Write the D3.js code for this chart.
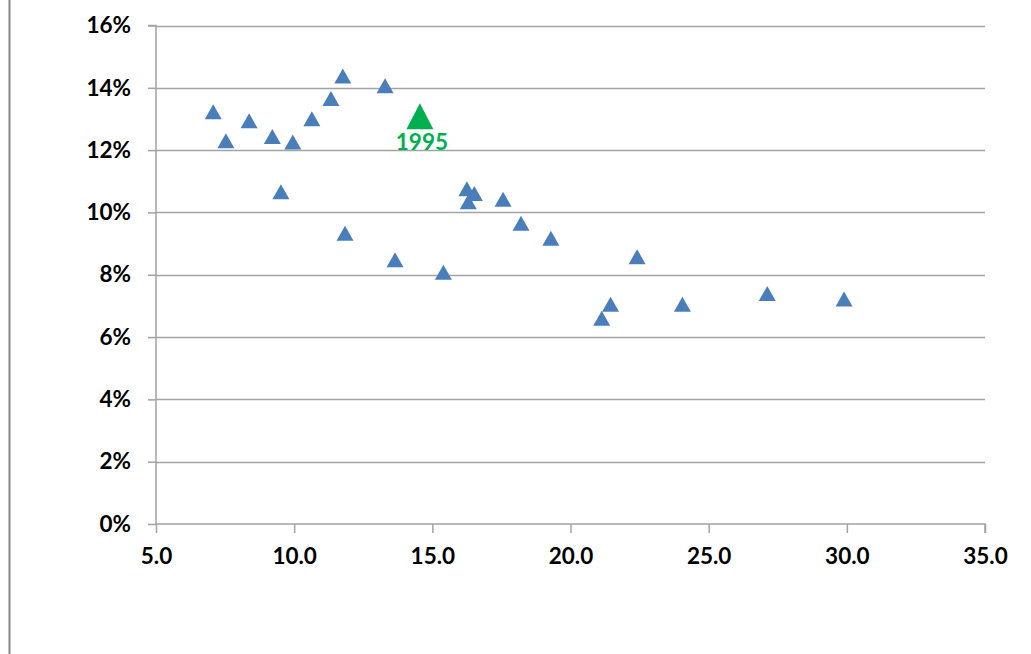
<!DOCTYPE html>
<html>
<head>
<meta charset="utf-8">
<script src="https://cdn.jsdelivr.net/npm/d3@7"></script>
<style>
  html, body { margin: 0; padding: 0; background: #fff; }
  svg { display: block; }
  text { font-family: Lato, "Open Sans", "Liberation Sans", sans-serif; font-weight: 700; }
</style>
</head>
<body>
<svg id="chart" width="1031" height="654"></svg>
<script>
// ---- data ----
const peValues = [7.07, 7.53, 8.37, 9.21, 9.52, 9.95, 10.64, 11.33, 11.76, 11.84, 13.29, 13.65, 15.40,
                  16.25, 16.52, 16.30, 17.56, 18.21, 19.29, 21.45, 21.13, 22.41, 24.05, 27.12, 29.90];
const returnValues = [13.23, 12.30, 12.94, 12.44, 10.66, 12.26, 13.01, 13.66, 14.38, 9.33, 14.07, 8.48, 8.08,
                      10.76, 10.61, 10.34, 10.42, 9.65, 9.17, 7.05, 6.60, 8.58, 7.05, 7.40, 7.22];
const highlightPE = [14.55];
const highlightReturn = [13.09];
const highlightLabels = ["1995"];
const xTickValues = [5, 10, 15, 20, 25, 30, 35];
const xTickLabels = ["5.0", "10.0", "15.0", "20.0", "25.0", "30.0", "35.0"];
const yTickValues = [0, 2, 4, 6, 8, 10, 12, 14, 16];
const yTickLabels = ["0%", "2%", "4%", "6%", "8%", "10%", "12%", "14%", "16%"];

// ---- layout ----
const svg = d3.select("#chart");
const plotLeft = 156, plotRight = 985, plotTop = 25.5, plotBottom = 524;
const x = d3.scaleLinear().domain([5, 35]).range([plotLeft, plotRight]);
const y = d3.scaleLinear().domain([0, 16]).range([plotBottom, plotTop]);

const gridColor = "#a3a3a3";
const fontSize = 22.5;

// outer chart frame (only left edge visible)
svg.append("line").attr("x1", 9.5).attr("x2", 9.5).attr("y1", 0).attr("y2", 654)
  .attr("stroke", "#858585").attr("stroke-width", 2);

// gridlines
svg.append("g").selectAll("line").data(yTickValues.filter(v => v > 0)).join("line")
  .attr("x1", plotLeft).attr("x2", plotRight)
  .attr("y1", d => Math.round(y(d)) + 0.5).attr("y2", d => Math.round(y(d)) + 0.5)
  .attr("stroke", gridColor).attr("stroke-width", 1.5);

// y axis
const yAxis = d3.axisLeft(y).tickValues(yTickValues)
  .tickFormat((d, i) => yTickLabels[i]).tickSize(8).tickPadding(17);
const gy = svg.append("g").attr("transform", `translate(${plotLeft},0)`).call(yAxis);
gy.select(".domain").attr("stroke", gridColor).attr("stroke-width", 1.5).attr("d", `M-8,${plotTop}H0V${plotBottom}`);
gy.selectAll(".tick line").attr("stroke", gridColor).attr("stroke-width", 1.5);
gy.selectAll(".tick text").attr("font-size", fontSize).attr("fill", "#000")
  .attr("font-family", "Lato, 'Open Sans', sans-serif").attr("font-weight", 700);

// x axis
const xAxis = d3.axisBottom(x).tickValues(xTickValues)
  .tickFormat((d, i) => xTickLabels[i]).tickSize(9).tickPadding(15);
const gx = svg.append("g").attr("transform", `translate(0,${plotBottom})`).call(xAxis);
gx.select(".domain").attr("stroke", gridColor).attr("stroke-width", 1.5).attr("d", `M${plotLeft},0H${plotRight}V9`);
gx.selectAll(".tick line").attr("stroke", gridColor).attr("stroke-width", 1.5);
gx.selectAll(".tick text").attr("font-size", fontSize).attr("fill", "#000")
  .attr("font-family", "Lato, 'Open Sans', sans-serif").attr("font-weight", 700);

// triangle marker path (apex up), centered on bounding box
function tri(w, h) {
  return `M0,${-h/2}L${w/2},${h/2}L${-w/2},${h/2}Z`;
}

const pts = peValues.map((v, i) => ({ pe: v, r: returnValues[i] }));
svg.append("g").selectAll("path").data(pts).join("path")
  .attr("d", tri(17, 15))
  .attr("transform", d => `translate(${x(d.pe)},${y(d.r)})`)
  .attr("fill", "#4a7ebb");

const hl = highlightPE.map((v, i) => ({ pe: v, r: highlightReturn[i], label: highlightLabels[i] }));
const gh = svg.append("g");
gh.selectAll("path").data(hl).join("path")
  .attr("d", tri(27, 26))
  .attr("transform", d => `translate(${x(d.pe)},${y(d.r)})`)
  .attr("fill", "#00b050");
gh.selectAll("text").data(hl).join("text")
  .attr("x", d => x(d.pe) + 2)
  .attr("y", d => y(d.r) + 34)
  .attr("text-anchor", "middle")
  .attr("font-size", fontSize)
  .attr("fill", "#00b050")
  .text(d => d.label);
</script>
</body>
</html>
